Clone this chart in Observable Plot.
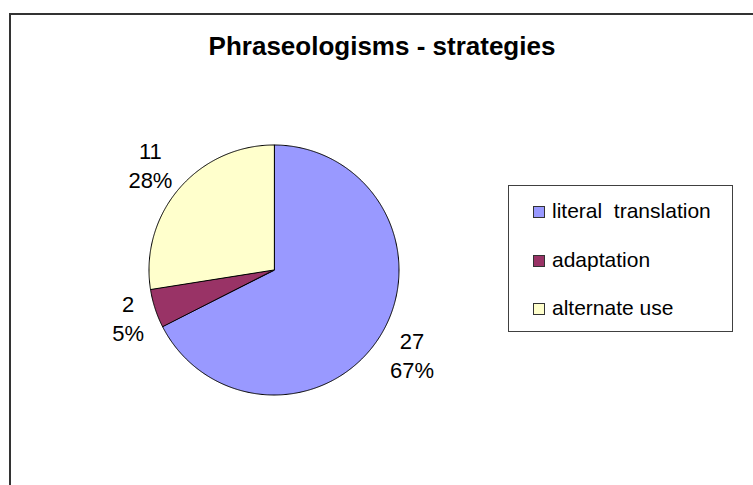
<!DOCTYPE html>
<html>
<head>
<meta charset="utf-8">
<script src="https://cdn.jsdelivr.net/npm/d3@7"></script>
<script src="https://cdn.jsdelivr.net/npm/@observablehq/plot@0.6"></script>
<style>
html, body { margin: 0; padding: 0; background: #fff; }
#chart { position: relative; width: 753px; height: 485px; overflow: hidden;
  font-family: "Liberation Sans", Arial, Helvetica, sans-serif; color: #000; }
#chart svg { position: absolute; left: 0; top: 0; }
#frame { position: absolute; left: 9px; top: 13px; width: 900px; height: 700px;
  border-left: 2px solid #333; border-top: 2px solid #333; }
#title { position: absolute; left: 0; width: 764px; top: 33px; text-align: center;
  font-weight: bold; font-size: 26px; line-height: 26px; white-space: nowrap; }
#legend { position: absolute; left: 508px; top: 185px; width: 225px; height: 147px;
  box-sizing: border-box; border: 1px solid #404040; padding: 1px 0 0 24px; background: #fff; }
.row { height: 48.5px; line-height: 48.5px; font-size: 21px; white-space: pre; }
.sw { display: inline-block; width: 12px; height: 12px; box-sizing: border-box;
  border: 1px solid #333; margin-right: 7px; vertical-align: baseline; }
</style>
</head>
<body>
<div id="chart"></div>
<script>
// ---- data ----
const title = "Phraseologisms - strategies";
const categories = ["literal  translation", "adaptation", "alternate use"];
const values = [27, 2, 11];
const percentLabels = ["67%", "5%", "28%"];
const colors = ["#9999FF", "#993366", "#FFFFCC"];

// ---- layout constants ----
const W = 753, H = 485;
const pieCx = 273.5, pieCy = 269.5, pieR = 125;
const labelFont = 22, labelGap = 6.5;

const pie = d3.pie().sort(null).value(d => d)(values);

function arcRing(a0, a1) {
  const ring = [[0, 0]];
  const n = Math.max(2, Math.ceil((a1 - a0) / (Math.PI / 360)));
  for (let i = 0; i <= n; i++) {
    const a = a0 + (a1 - a0) * i / n;
    ring.push([Math.sin(a), -Math.cos(a)]);
  }
  ring.push([0, 0]);
  return ring;
}

const slices = pie.map((p, i) => ({
  type: "Feature",
  properties: { category: categories[i], value: values[i] },
  geometry: { type: "Polygon", coordinates: [arcRing(p.startAngle, p.endAngle)] }
}));

const circle = { type: "Polygon", coordinates: [arcRing(0, 2 * Math.PI).slice(1, -1).concat([[0, -1]])] };

// label positions: outside each slice along its mid angle
function textWidth(s) {
  let w = 0;
  for (const c of s) w += c === "%" ? 0.889 : 0.556;
  return w * labelFont;
}
const labels = pie.map((p, i) => {
  const m = (p.startAngle + p.endAngle) / 2;
  const dx = Math.sin(m), dy = -Math.cos(m);
  const lines = [String(values[i]), percentLabels[i]];
  const w = d3.max(lines, textWidth), h = 44;
  const ext = Math.abs(dx) * w / 2 + Math.abs(dy) * h / 2;
  const r = 1 + (labelGap + ext) / pieR;
  return { x: r * dx, y: r * dy, text: lines.join("\n") };
});

const plot = Plot.plot({
  width: W,
  height: H,
  marginLeft: pieCx - pieR,
  marginRight: W - (pieCx + pieR),
  marginTop: pieCy - pieR,
  marginBottom: H - (pieCy + pieR),
  projection: { type: "identity", domain: circle, clip: false },
  color: { domain: categories, range: colors },
  style: { background: "transparent", fontFamily: "Liberation Sans, Arial, sans-serif" },
  marks: [
    Plot.geo(slices, { fill: d => d.properties.category, stroke: "#000", strokeWidth: 1 }),
    Plot.text(labels, { x: "x", y: "y", text: "text", fontSize: labelFont, lineHeight: 1.32,
      textAnchor: "middle", lineAnchor: "middle", fill: "#000", clip: false })
  ]
});

const chart = document.getElementById("chart");
chart.appendChild(plot);

const frame = document.createElement("div");
frame.id = "frame";
chart.appendChild(frame);

const t = document.createElement("div");
t.id = "title";
t.textContent = title;
chart.appendChild(t);

const legend = document.createElement("div");
legend.id = "legend";
categories.forEach((c, i) => {
  const row = document.createElement("div");
  row.className = "row";
  const sw = document.createElement("span");
  sw.className = "sw";
  sw.style.background = colors[i];
  row.appendChild(sw);
  row.appendChild(document.createTextNode(c));
  legend.appendChild(row);
});
chart.appendChild(legend);
</script>
</body>
</html>
